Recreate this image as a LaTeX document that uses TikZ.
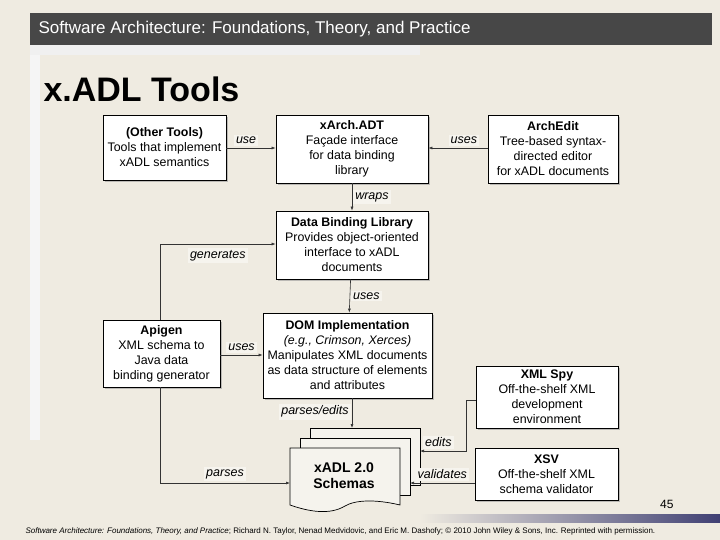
\documentclass[tikz,border=0pt]{standalone}
\usepackage{fontspec}
\setmainfont{Liberation Sans}
\usetikzlibrary{shadows,arrows.meta}
\definecolor{bg}{HTML}{EFEBE1}
\definecolor{lbl}{HTML}{F6F4EE}
\tikzset{
 box/.style={draw=black,fill=white,line width=0.8pt,inner sep=0pt,drop shadow={shadow xshift=2pt,shadow yshift=-2pt,fill=black!40,opacity=0.6},align=center,font=\fontsize{12.4}{15}\selectfont},
 conn/.style={draw=black!80,line width=0.6pt,-{Latex[length=4pt,width=3pt]}},
 lab/.style={fill=lbl,font=\fontsize{12.5}{14}\selectfont\itshape,inner sep=2pt}
}
\begin{document}
\begin{tikzpicture}[x=1pt,y=-1pt]
\useasboundingbox (0,0) rectangle (720,540);
\fill[bg] (0,0) rectangle (720,540);
\fill[black!4] (30,45) rectangle (40,440);
\fill[black!6] (30,45) rectangle (420,55);
\fill[black!72] (30,13) rectangle (712,45);
\node[anchor=west,text=white,font=\fontsize{17}{18}\selectfont] (title) at (35,29) {Software Architecture: Foundations, Theory, and Practice};
\node[anchor=west,font=\fontsize{34}{36}\selectfont\bfseries] (head) at (40,89) {x.ADL Tools};
\shade[left color=bg,right color=black!60!blue!50!gray] (420,514) rectangle (720,522);
\node[anchor=east,font=\fontsize{12}{13}\selectfont] (pg) at (677,504) {45};
\node[anchor=west,font=\fontsize{8}{9}\selectfont] (foot) at (22,531) {\textit{Software Architecture: Foundations, Theory, and Practice}; Richard N. Taylor, Nenad Medvidovic, and Eric M. Dashofy; © 2010 John Wiley \& Sons, Inc. Reprinted with permission.};

\node[box,minimum width=123pt,minimum height=65pt] (other) at (164.5,147.5) {\textbf{(Other Tools)}\\Tools that implement\\xADL semantics};
\node[box,minimum width=152pt,minimum height=68pt] (adt) at (352,149) {\textbf{xArch.ADT}\\Façade interface\\for data binding\\library};
\node[box,minimum width=130pt,minimum height=68pt] (edit) at (553,149) {\textbf{ArchEdit}\\Tree-based syntax-\\directed editor\\for xADL documents};
\node[box,minimum width=152pt,minimum height=68pt] (dbl) at (352,245) {\textbf{Data Binding Library}\\Provides object-oriented\\interface to xADL\\documents};
\node[box,minimum width=117pt,minimum height=67pt] (api) at (161.5,353.5) {\textbf{Apigen}\\XML schema to\\Java data\\binding generator};
\node[box,minimum width=169pt,minimum height=85pt] (dom) at (347.5,355.5) {\textbf{DOM Implementation}\\\textit{(e.g., Crimson, Xerces)}\\Manipulates XML documents\\as data structure of elements\\and attributes};
\node[box,minimum width=142pt,minimum height=62pt] (spy) at (547,397) {\textbf{XML Spy}\\Off-the-shelf XML\\development\\environment};
\node[box,minimum width=143pt,minimum height=52pt] (xsv) at (546.5,474) {\textbf{XSV}\\Off-the-shelf XML\\schema validator};

% document stack
\foreach \o in {20,10}{
 \draw[fill=bg!60!white,line width=0.7pt] (290+\o,448-\o) rectangle (400+\o,505-\o);}
\draw[fill=bg!60!white,line width=0.7pt] (290,448) -- (400,448) -- (400,505) .. controls (375,499) and (355,500) .. (345,506) .. controls (330,515) and (310,512) .. (290,505) -- cycle;
\node[font=\fontsize{14}{16}\selectfont\bfseries,align=center] (doc) at (344,476) {xADL 2.0\\Schemas};
\coordinate (doctop) at (352,428);
\coordinate (docleft) at (290,483);
\coordinate (docright) at (410,483);
\coordinate (docback) at (420,451);

\draw[conn] (other.east |- 0,148) -- node[lab,above=2pt,pos=0.4]{use} (adt.west |- 0,148);
\draw[conn] (edit.west |- 0,148) -- node[lab,above=2pt,pos=0.4]{uses} (adt.east |- 0,148);
\draw[conn] (adt) -- node[lab,right=1pt]{wraps} (dbl);
\draw[conn] (api.north -| 160,0) |- node[lab,pos=0.75,below=4pt]{generates} (dbl.west |- 0,244);
\draw[conn] (dbl) -- node[lab,right=1pt]{uses} (dom);
\draw[conn] (api.east |- 0,355) -- node[lab,above=2pt]{uses} (dom.west |- 0,355);
\draw[conn] (dom.south -| 352,0) -- node[lab,left=1pt,pos=0.45]{parses/edits} (doctop);
\draw[conn] (api.south -| 160,0) |- node[lab,pos=0.75,above=2pt]{parses} (docleft);
\draw[conn] (spy.west |- 0,400) -| (466,451) -- node[lab,above=2pt,pos=0.6]{edits} (docback);
\draw[conn] (xsv.west |- 0,483) -- node[lab,above=2pt,pos=0.5]{validates} (docright);
\end{tikzpicture}
\end{document}
